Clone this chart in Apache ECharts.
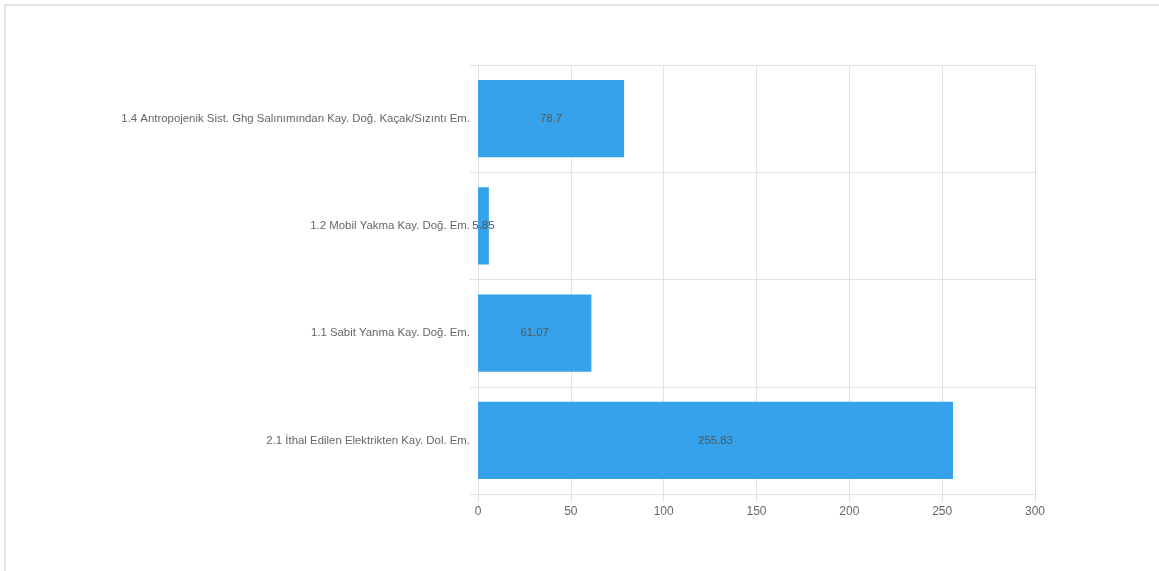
<!DOCTYPE html>
<html>
<head>
<meta charset="utf-8">
<script src="https://cdn.jsdelivr.net/npm/echarts@6/dist/echarts.min.js"></script>
<style>
  html, body { margin: 0; padding: 0; background: #fff; }
  #main { position: absolute; left: 0; top: 0; width: 1159px; height: 571px; }
  #frame { position: absolute; left: 4px; top: 4px; width: 1300px; height: 700px;
           border: 2px solid #e3e3e3; pointer-events: none; box-sizing: border-box; }
</style>
</head>
<body>
<div id="main"></div>
<div id="frame"></div>
<script>
// categories from top to bottom
var categories = [
    '1.4 Antropojenik Sist. Ghg Salınımından Kay. Doğ. Kaçak/Sızıntı Em.',
    '1.2 Mobil Yakma Kay. Doğ. Em.',
    '1.1 Sabit Yanma Kay. Doğ. Em.',
    '2.1 İthal Edilen Elektrikten Kay. Dol. Em.'
];
var values = [78.7, 5.85, 61.07, 255.83];

var gridColor = '#e1e1e1';
var textColor = '#666';

var myChart = echarts.init(document.getElementById('main'));
var option = {
    animation: false,
    textStyle: { fontFamily: 'Liberation Sans, Arial, sans-serif' },
    grid: { left: 478, right: 124, top: 65, bottom: 77 },
    xAxis: {
        type: 'value',
        min: 0,
        max: 300,
        interval: 50,
        axisLine: { show: true, lineStyle: { color: gridColor } },
        axisTick: { show: true, length: 8, lineStyle: { color: gridColor } },
        splitLine: { show: true, lineStyle: { color: gridColor } },
        axisLabel: { color: textColor, fontSize: 12, margin: 12 }
    },
    yAxis: {
        type: 'category',
        inverse: true,
        data: categories,
        axisLine: { show: true, lineStyle: { color: gridColor } },
        axisTick: { show: true, length: 8, lineStyle: { color: gridColor } },
        splitLine: { show: true, lineStyle: { color: gridColor } },
        axisLabel: { color: textColor, fontSize: 11.4, margin: 8 }
    },
    series: [{
        type: 'bar',
        data: values,
        barWidth: '72%',
        itemStyle: { color: '#36a2eb' },
        label: {
            show: true,
            position: 'inside',
            color: '#555',
            fontSize: 11.4
        }
    }]
};
myChart.setOption(option);
</script>
</body>
</html>
